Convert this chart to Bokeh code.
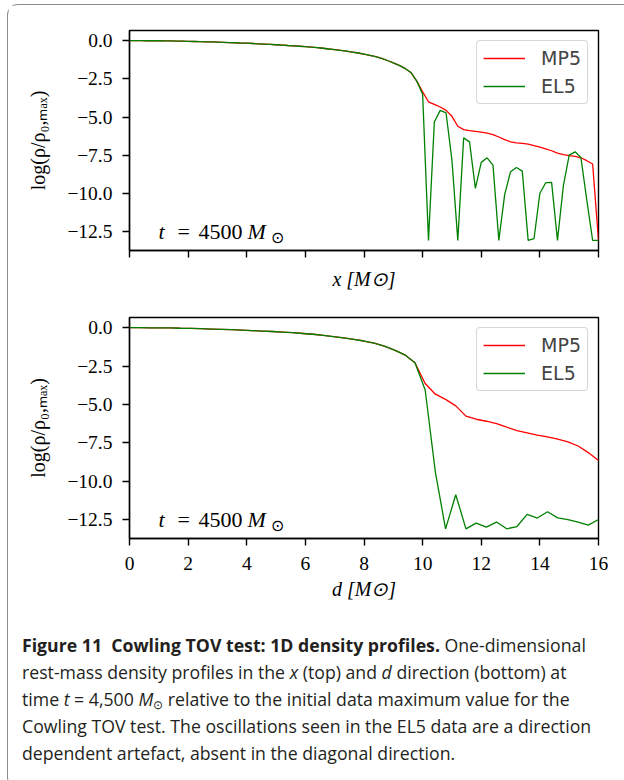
from bokeh.plotting import figure
from bokeh.layouts import column
from bokeh.models import Div, Label, FixedTicker, Range1d, CustomLabelingPolicy
from bokeh.embed import file_html
from bokeh.resources import INLINE

# ---------------- data ----------------
# x direction: grid spacing 0.2 M_sun, 0 .. 16
x_grid = [round(0.2 * i, 1) for i in range(81)]
# common stellar interior (x = 0 .. 9.8)
inner_x = [0.00, 0.00, 0.00, -0.01, -0.01, -0.01, -0.02, -0.02, -0.03, -0.04,
           -0.05, -0.06, -0.07, -0.08, -0.09, -0.10, -0.11, -0.13, -0.14, -0.16,
           -0.17, -0.19, -0.21, -0.23, -0.25, -0.27, -0.29, -0.32, -0.34, -0.37,
           -0.40, -0.43, -0.46, -0.50, -0.55, -0.59, -0.64, -0.69, -0.75, -0.81,
           -0.88, -0.96, -1.05, -1.16, -1.30, -1.45, -1.62, -1.82, -2.08, -2.65]
# atmosphere part (x = 10.0 .. 16.0)
mp5_x_outer = [-3.35, -4.00, -4.17, -4.34, -4.56, -4.95, -5.60, -5.82, -5.88, -5.93,
               -5.98, -6.05, -6.14, -6.30, -6.47, -6.62, -6.68, -6.72, -6.77, -6.86,
               -6.96, -7.08, -7.20, -7.36, -7.46, -7.52, -7.57, -7.66, -7.85, -8.07,
               -13.06]
el5_x_outer = [-3.50, -13.06, -5.32, -4.56, -4.73, -7.81, -13.06, -6.36, -6.62, -9.66,
               -7.96, -7.66, -8.14, -13.06, -10.05, -8.57, -8.29, -8.53, -13.06, -12.95,
               -9.98, -9.29, -9.27, -13.06, -9.51, -7.49, -7.27, -7.64, -10.42, -13.06,
               -13.06]
mp5_x = inner_x + mp5_x_outer
el5_x = inner_x + el5_x_outer

# diagonal direction: 47 points, 0 .. 16
d_grid = [round(16.0 * i / 46, 4) for i in range(47)]
inner_d = [0.00, 0.00, -0.01, -0.01, -0.02, -0.04, -0.05, -0.07, -0.09, -0.11,
           -0.13, -0.16, -0.19, -0.22, -0.25, -0.29, -0.33, -0.38, -0.43, -0.50,
           -0.58, -0.66, -0.76, -0.87, -1.01, -1.20, -1.46, -1.77, -2.28]
mp5_d_outer = [-3.63, -4.33, -4.67, -5.09, -5.76, -5.96, -6.09, -6.24, -6.48, -6.70,
               -6.84, -6.99, -7.11, -7.26, -7.43, -7.70, -8.13, -8.65]
el5_d_outer = [-4.06, -9.40, -13.09, -10.87, -13.09, -12.72, -12.98, -12.65, -13.09, -12.94,
               -12.15, -12.39, -11.98, -12.38, -12.49, -12.65, -12.85, -12.48]
mp5_d = inner_d + mp5_d_outer
el5_d = inner_d + el5_d_outer

series_names = ["MP5", "EL5"]
series_colors = ["#ff0000", "#008000"]

x_ticks = [0, 2, 4, 6, 8, 10, 12, 14, 16]
x_tick_labels = ["0", "2", "4", "6", "8", "10", "12", "14", "16"]
y_ticks = [0.0, -2.5, -5.0, -7.5, -10.0, -12.5]
y_tick_labels = ["0.0", "\u22122.5", "\u22125.0", "\u22127.5", "\u221210.0", "\u221212.5"]

y_label = "log(\u03c1/\u03c1\u2080,\u2098\u2090\u2093)"
x_label_top = "x [M\u2299]"
x_label_bot = "d [M\u2299]"

SERIF = "Liberation Serif"


def make_plot(xs, ys_list, height, b_top, b_bottom, xlabel, show_xticklabels):
    p = figure(width=616, height=height, output_backend="svg", toolbar_location=None,
               x_range=Range1d(0, 16), y_range=Range1d(-13.72, 0.66),
               min_border_left=121, min_border_right=26,
               min_border_top=b_top, min_border_bottom=b_bottom)
    p.xgrid.visible = False
    p.ygrid.visible = False
    p.outline_line_color = "black"
    p.outline_line_width = 1.4
    p.outline_line_alpha = 1.0
    p.background_fill_color = "white"
    p.border_fill_color = "white"

    for ys, name, col in zip(ys_list, series_names, series_colors):
        p.line(xs, ys, line_color=col, line_width=1.3, legend_label=name)

    for ax in (p.xaxis[0], p.yaxis[0]):
        ax.axis_line_width = 1.4
        ax.major_tick_line_width = 1.4
        ax.major_tick_out = 7
        ax.major_tick_in = 0
        ax.minor_tick_out = 0
        ax.minor_tick_in = 0
        ax.major_label_text_font = SERIF
        ax.major_label_text_font_size = "19.5px"
        ax.major_label_text_color = "black"
        ax.axis_label_text_font = SERIF
        ax.axis_label_text_font_size = "20px"
        ax.axis_label_text_font_style = "normal"
        ax.axis_label_text_color = "black"

    p.xaxis.ticker = FixedTicker(ticks=x_ticks)
    p.xaxis.major_label_overrides = dict(zip(x_ticks, x_tick_labels))
    p.yaxis.ticker = FixedTicker(ticks=y_ticks)
    p.yaxis.major_label_overrides = dict(zip(y_ticks, y_tick_labels))
    p.yaxis.major_label_standoff = 10
    p.yaxis.axis_label = y_label
    p.yaxis.axis_label_standoff = 15

    p.xaxis.axis_label = xlabel
    p.xaxis.axis_label_text_font_style = "italic"
    if show_xticklabels:
        p.xaxis.major_label_standoff = 11
        p.xaxis.axis_label_standoff = 5
    else:
        # tick marks only, no tick labels on the upper panel
        p.xaxis.major_label_policy = CustomLabelingPolicy(code="return []")
        p.xaxis.major_label_standoff = 0
        p.xaxis.axis_label_standoff = -6

    # annotation  t = 4500 M_sun
    pieces = [("t", 29, "italic", "22px", 0),
              ("=", 48, "normal", "22px", 0),
              ("4500", 69, "normal", "22px", 0),
              ("M", 118, "italic", "22px", 0),
              ("\u2299", 141, "normal", "16px", -6)]
    for txt, xo, st, fs, yo in pieces:
        p.add_layout(Label(x=0, y=-12.5, x_offset=xo, y_offset=yo, text=txt,
                           text_font=SERIF, text_font_style=st, text_font_size=fs,
                           text_baseline="middle", text_color="black"))

    lg = p.legend[0]
    lg.location = "top_right"
    lg.margin = 10
    lg.padding = 6
    lg.spacing = 6
    lg.glyph_width = 42
    lg.glyph_height = 20
    lg.label_standoff = 16
    lg.label_text_font = "DejaVu Sans"
    lg.label_text_font_size = "19px"
    lg.label_height = 22
    lg.border_line_color = "#cccccc"
    lg.border_line_width = 1.5
    lg.border_line_alpha = 0.8
    lg.background_fill_alpha = 0.8
    if "border_radius" in lg.properties():
        lg.border_radius = 4
    return p


p1 = make_plot(x_grid, [mp5_x, el5_x], 295, 25, 50, x_label_top, False)
p2 = make_plot(d_grid, [mp5_d, el5_d], 310, 17, 72, x_label_bot, True)

caption_html = (
    '<div style="padding:17px 0 0 9px; font-family:\'Open Sans\', sans-serif; font-size:17.7px; '
    'line-height:27px; color:#231f20; white-space:nowrap;">'
    '<b>Figure 11&nbsp;&nbsp;Cowling TOV test: 1D density profiles.</b> One-dimensional<br>'
    'rest-mass density profiles in the <i>x</i> (top) and <i>d</i> direction (bottom) at<br>'
    'time <i>t</i> = 4,500 <i>M</i><span style="font-size:12px; line-height:0; '
    'vertical-align:-3px">\u2299</span> relative to the initial data maximum value for the<br>'
    'Cowling TOV test. The oscillations seen in the EL5 data are a direction<br>'
    'dependent artefact, absent in the diagonal direction.'
    '</div>'
)
caption = Div(text=caption_html, width=616, height=167)

layout = column(p1, p2, caption, margin=(5, 0, 0, 8),
                styles={"box-shadow": "0 0 0 1px #8a8a8a", "border-radius": "10px",
                        "background-color": "white"})

open("out.html", "w").write(file_html(layout, INLINE))
